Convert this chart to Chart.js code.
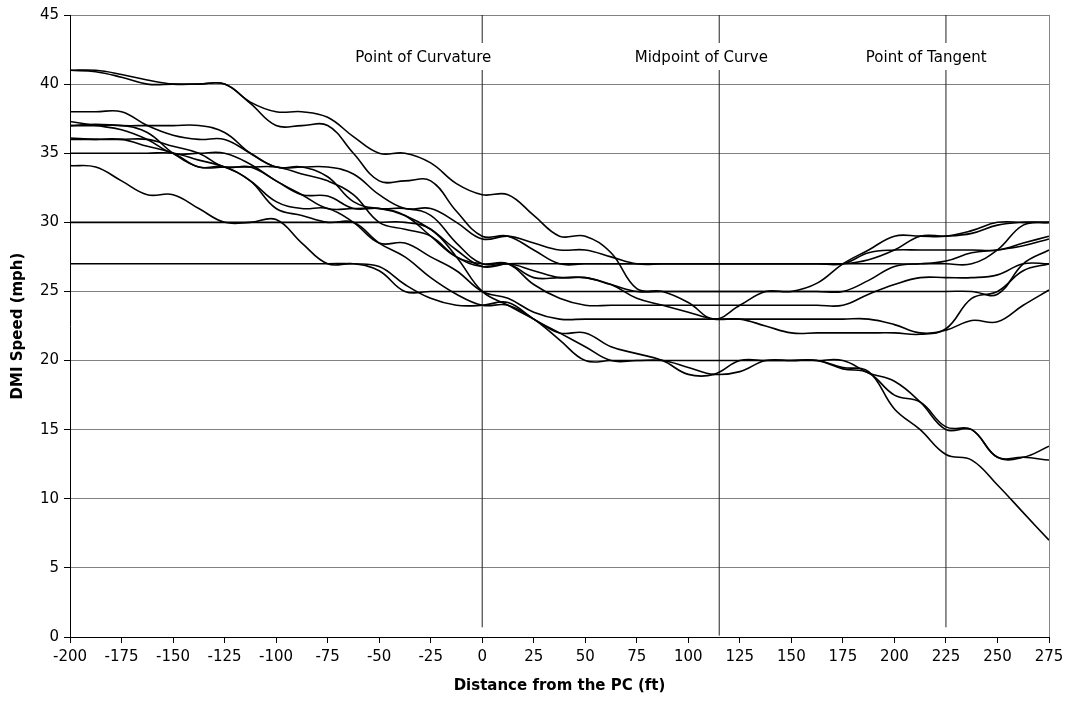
<!DOCTYPE html>
<html>
<head>
<meta charset="utf-8">
<script src="https://cdn.jsdelivr.net/npm/chart.js@4.4.1/dist/chart.umd.min.js"></script>
<style>
  html, body { margin: 0; padding: 0; background: #fff; }
</style>
</head>
<body>
<canvas id="speedChart" width="1069" height="708"></canvas>
<script>
// distance from the PC (ft)
const distance = [-200, -187.5, -175, -162.5, -150, -137.5, -125, -112.5, -100, -87.5,
  -75, -62.5, -50, -37.5, -25, -12.5, 0, 12.5, 25, 37.5,
  50, 62.5, 75, 87.5, 100, 112.5, 125, 137.5, 150, 162.5,
  175, 187.5, 200, 212.5, 225, 237.5, 250, 262.5, 275];

// DMI speed (mph) for each run
const run01 = [41, 41, 40.7, 40.3, 40, 40, 40, 38.7, 38, 38, 37.6, 36.2, 35, 35, 34.3, 32.8, 32, 32, 30.5, 29, 29, 27.8, 25.2, 25, 24.2, 23, 24, 25, 25, 25.6, 27, 28, 29, 29, 29, 29.4, 30, 30, 30];
const run02 = [41, 40.9, 40.5, 40, 40, 40, 40, 38.6, 37, 37, 37, 35, 33, 33, 33, 30.8, 29, 29, 28, 27, 27, 27, 27, 27, 27, 27, 27, 27, 27, 27, 27, 27.3, 28, 29, 29, 29.2, 29.8, 30, 30];
const run03 = [38, 38, 38, 37, 36.3, 36, 36, 35, 34, 34, 34, 33.5, 32, 31, 31, 30, 28.8, 29, 28.5, 28, 28, 27.5, 27, 27, 27, 27, 27, 27, 27, 27, 27, 27.8, 28, 28, 28, 28, 28, 28.5, 29];
const run04 = [37.3, 37, 36.7, 36, 35, 35, 35, 34.2, 33, 32, 31, 31, 31, 30.5, 29, 27.5, 27, 27, 25.5, 24.5, 24, 24, 24, 24, 24, 24, 24, 24, 24, 24, 24, 24.8, 25.5, 26, 26, 26, 26.2, 27, 27];
const run05 = [37, 37.1, 37, 37, 37, 37, 36.5, 35, 34, 34, 33.3, 31.5, 31, 31, 30.5, 28.5, 27, 27, 26, 26, 26, 25.5, 25, 25, 25, 25, 25, 25, 25, 25, 25, 25.8, 26.8, 27, 27, 27, 28, 29.8, 30];
const run06 = [37, 37, 37, 36.5, 35, 34, 34, 34, 34, 33.5, 33, 32, 30, 29.5, 29, 27.5, 26.8, 27, 26.5, 26, 26, 25.5, 24.5, 24, 23.5, 23, 23, 22.5, 22, 22, 22, 22, 22, 21.9, 22.3, 24.5, 25, 26.5, 27];
const run07 = [36.1, 36, 36, 36, 35.5, 35, 34, 34, 33, 32, 31.9, 31, 31, 30.5, 29.5, 28, 26.8, 27, 27, 27, 27, 27, 27, 27, 27, 27, 27, 27, 27, 27, 27, 27, 27, 27, 27.2, 27.8, 28, 28.3, 28.8];
const run08 = [36, 36, 36, 35.5, 35, 34, 34, 33, 31.5, 31, 31, 30, 28.5, 28.5, 27.5, 26.5, 25, 24.5, 23.5, 23, 23, 23, 23, 23, 23, 23, 23, 23, 23, 23, 23, 23, 22.6, 22, 22.2, 22.9, 22.8, 24, 25.1];
const run09 = [35, 35, 35, 35, 35, 34.5, 34, 33, 31, 30.5, 30, 30, 28.5, 27.5, 26, 24.8, 24, 24, 23, 21.5, 20, 20, 20, 20, 20, 20, 20, 20, 20, 20, 20, 19.1, 18.5, 17, 15, 15, 13, 13, 13.8];
const run10 = [34.1, 34, 33, 32, 32, 31, 30, 30, 30.2, 28.5, 27, 27, 26.5, 25, 25, 25, 25, 25, 25, 25, 25, 25, 25, 25, 25, 25, 25, 25, 25, 25, 25, 25, 25, 25, 25, 25, 24.8, 27, 28];
const run11 = [30, 30, 30, 30, 30, 30, 30, 30, 30, 30, 30, 30, 30, 30, 29.5, 27.5, 25, 24, 23, 22, 22, 21, 20.5, 20, 19, 19, 20, 20, 20, 20, 19.4, 19.1, 17.5, 17, 15.2, 15, 13, 13, 12.8];
const run12 = [27, 27, 27, 27, 27, 27, 27, 27, 27, 27, 27, 27, 26.8, 25.5, 24.5, 24, 24, 24.2, 23, 22, 21, 20, 20, 20, 19.5, 19, 19.2, 20, 20, 20, 19.5, 19.2, 16.5, 15, 13.2, 12.8, 11, 9, 7];

const runs = [run01, run02, run03, run04, run05, run06, run07, run08, run09, run10, run11, run12];

// reference points along the curve
const markerX = [0, 115, 225];
const markerBottom = [0.7, 0.1, 0.7];
const markerLabels = ["Point of Curvature", "Midpoint of Curve", "Point of Tangent"];
const markerLabelX = [-28.6, 106.3, 215.4];
const markerLabelY = 41.6;

const FONT = '"DejaVu Sans", Verdana, sans-serif';

let datasets = runs.map(function (r) {
    return {
        data: distance.map((d, i) => ({ x: d, y: r[i] })),
        borderColor: "#000",
        borderWidth: 1.6,
        pointRadius: 0,
        tension: 0.4,
        fill: false,
    };
});

markerX.forEach(function (mx, i) {
    datasets.push({
        data: [{ x: mx, y: markerBottom[i] }, { x: mx, y: 45 }],
        borderColor: "#222",
        borderWidth: 1,
        pointRadius: 0,
        tension: 0,
    });
});

//white boxed captions over the marker lines, plus the right frame edge
const markerText = {
    id: "markerText",
    afterDatasetsDraw(chart) {
        const { ctx, chartArea, scales } = chart;
        ctx.save();
        ctx.strokeStyle = "#888";
        ctx.lineWidth = 1;
        ctx.beginPath();
        ctx.moveTo(chartArea.right + 0.5, chartArea.top);
        ctx.lineTo(chartArea.right + 0.5, chartArea.bottom);
        ctx.stroke();

        ctx.font = "15px " + FONT;
        ctx.textAlign = "center";
        ctx.textBaseline = "alphabetic";
        markerLabels.forEach(function (txt, i) {
            const cx = scales.x.getPixelForValue(markerLabelX[i]);
            const by = scales.y.getPixelForValue(markerLabelY);
            const w = ctx.measureText(txt).width;
            ctx.fillStyle = "#fff";
            ctx.fillRect(cx - w / 2 - 4, by - 19, w + 8, 27);
            ctx.fillStyle = "#000";
            ctx.fillText(txt, cx, by);
        });
        ctx.restore();
    },
};

const config = {
    type: "line",
    data: { datasets: datasets },
    options: {
        responsive: false,
        animation: false,
        devicePixelRatio: 1,
        layout: { padding: { top: 15, right: 20, left: 0, bottom: 0 } },
        plugins: {
            legend: { display: false },
            tooltip: { enabled: false },
        },
        scales: {
            x: {
                type: "linear",
                min: -200,
                max: 275,
                ticks: { stepSize: 25, color: "#000", padding: 5, font: { family: FONT, size: 15 }, maxRotation: 0 },
                grid: { drawOnChartArea: false, drawTicks: true, tickLength: 6, tickColor: "#000" },
                border: { color: "#000", width: 1 },
                title: {
                    display: true,
                    text: "Distance from the PC (ft)",
                    color: "#000",
                    font: { family: FONT, size: 15, weight: "bold" },
                    padding: { top: 0, bottom: 13 },
                },
                afterFit: (scale) => { scale.height = 71; },
            },
            y: {
                min: 0,
                max: 45,
                ticks: { stepSize: 5, color: "#000", padding: 5, font: { family: FONT, size: 15 } },
                grid: { color: "#808080", lineWidth: 1, tickLength: 6, tickColor: "#000" },
                border: { color: "#000", width: 1 },
                title: {
                    display: true,
                    text: "DMI Speed (mph)",
                    color: "#000",
                    font: { family: FONT, size: 15, weight: "bold" },
                    padding: { top: 9, bottom: 0 },
                },
                afterFit: (scale) => { scale.width = 70; },
            },
        },
    },
    plugins: [markerText],
};

const speedChart = new Chart(document.getElementById("speedChart"), config);
</script>
</body>
</html>
